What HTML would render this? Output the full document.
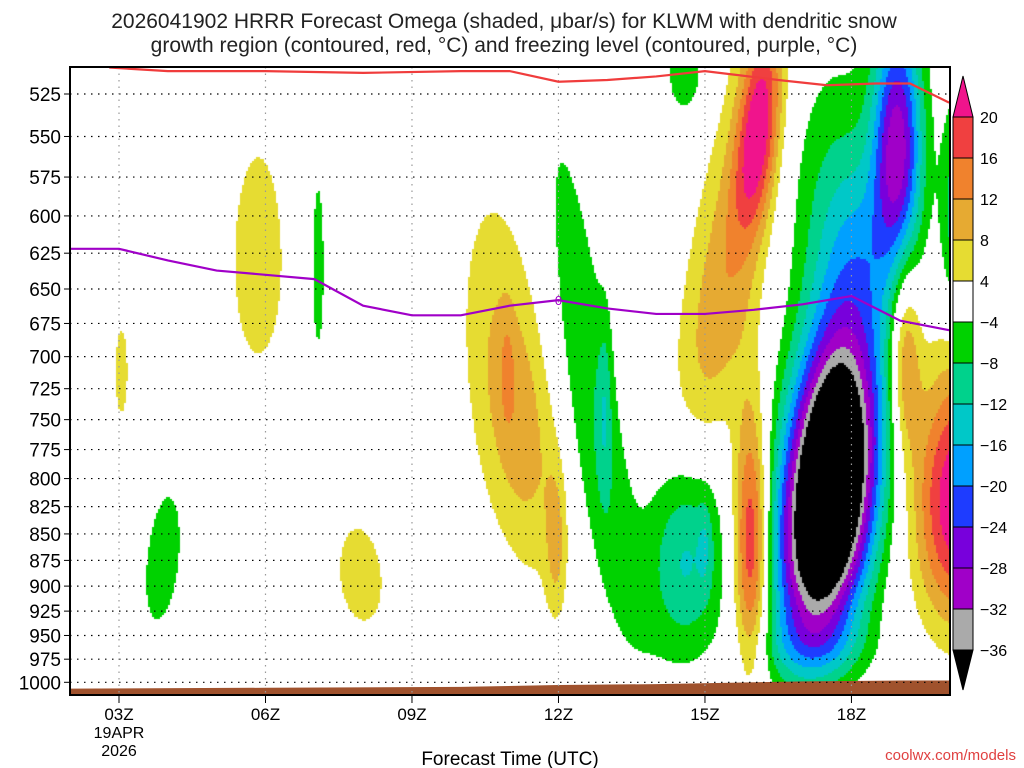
<!DOCTYPE html>
<html><head><meta charset="utf-8">
<style>
body{margin:0;background:#fff;width:1024px;height:768px;overflow:hidden;font-family:"Liberation Sans",sans-serif}
#wrap{position:relative;width:1024px;height:768px}
canvas,svg{position:absolute;left:0;top:0}
</style></head><body>
<div id="wrap">
<canvas id="cv" width="1024" height="768"></canvas>
<svg id="sv" width="1024" height="768"></svg>
</div>
<script>
// ---- data ----
const pressureTicks=[525,550,575,600,625,650,675,700,725,750,775,800,825,850,875,900,925,950,975,1000];
const timeTicks=[3,6,9,12,15,18];
const timeLabels=["03Z","06Z","09Z","12Z","15Z","18Z"];
const levels=[-36,-32,-28,-24,-20,-16,-12,-8,-4,4,8,12,16,20];
const levelColors=["#000000","#aaaaaa","#a000c8","#7800dc","#1e3cff","#00a0ff","#00c8c8","#00d28c","#00d200","#ffffff","#e6dc32","#e6aa32","#f0822d","#f04040","#f0148c"];
const cbLabels=["20","16","12","8","4","\u22124","\u22128","\u221212","\u221216","\u221220","\u221224","\u221228","\u221232","\u221236"];
// omega features (hour, pressure, hour-sigma, p-sigma, amplitude, tilt hours/100hPa)
const blobHour=[3.05,5.85,7.08,3.9,7.95,11.1,10.95,11.95,12.7,12.95,14.6,15.0,16.1,15.35,15.95,17.55,18.95,18.3,14.6,20.15,19.1,20.1,17.3,17.6];
const blobP=[712,630,635,875,890,740,710,860,750,740,870,860,545,650,860,810,555,620,512,820,700,600,960,580];
const blobSh=[0.13,0.42,0.1,0.3,0.42,0.62,0.1,0.15,0.45,0.1,0.55,0.1,0.3,0.55,0.25,0.65,0.35,0.6,0.3,0.6,0.22,0.2,0.8,0.7];
const blobSp=[35,60,50,55,45,100,30,50,160,50,70,30,45,100,85,97,55,45,20,80,55,50,25,60];
const blobAmp=[6,7.5,-7,-7,6.5,11,4,7,-8,-6,-13,-4,20,11,22,-62,-29,-6,-7,24,14,-10,-6,-6];
const blobTilt=[0,0,0,-0.2,0.15,0.3,0,0,0.35,0,0,0,-0.3,-0.45,0,-0.22,0,0,0,0,0,0,0,0];
// dendritic growth line (red) and freezing level (purple)
const redHours=[2.8,4,6,8,10,11,12,13,14,15,16.5,17.5,18.5,19.2,20];
const redP=[510,512,512,513,512,512,518,517,515,512,517,520,519,519,530];
const frzHours=[2,3,4,5,6,7,8,9,10,11,12,13,14,15,16,17,18,19,20];
const frzP=[622,622,630,637,640,643,662,669,669,662,658,664,668,668,665,661,655,673,680];
const sfcHours=[2,6,10,12,14,17,19,20];
const sfcP=[1007,1006,1005,1003,1002,999,998,998];

// ---- axes ----
const X0=70,X1=950,Y0=67,Y1=695;
const xOf=h=>119+(h-3)*48.83;
const yOf=p=>94+(Math.log(p)-Math.log(525))*913;
const hOf=x=>3+(x-119)/48.83;
const pOf=y=>Math.exp(Math.log(525)+(y-94)/913);

function omega(h,p){let s=0;for(let i=0;i<blobHour.length;i++){const dp=p-blobP[i];const dh=h-blobHour[i]-blobTilt[i]*dp/100;s+=blobAmp[i]*Math.exp(-0.5*(dh*dh/(blobSh[i]*blobSh[i])+dp*dp/(blobSp[i]*blobSp[i])));}return s;}
function colorOf(v){let k=0;while(k<levels.length&&v>=levels[k])k++;return levelColors[k];}

const cv=document.getElementById('cv');const ctx=cv.getContext('2d');
ctx.fillStyle='#fff';ctx.fillRect(0,0,1024,768);
const R=2;
for(let y=Y0;y<Y1;y+=R){const p=pOf(y+R/2);for(let x=X0;x<X1;x+=R){ctx.fillStyle=colorOf(omega(hOf(x+R/2),p));ctx.fillRect(x,y,R,R);}}

const NS='http://www.w3.org/2000/svg';const sv=document.getElementById('sv');
function mk(t,a,parent){const e=document.createElementNS(NS,t);for(const k in a)e.setAttribute(k,a[k]);(parent||sv).appendChild(e);return e;}
// terrain
let tp=`M${X0},${Y1} `;sfcHours.forEach((h,i)=>{tp+=`L${xOf(h)},${yOf(sfcP[i])} `;});tp+=`L${X1},${Y1} Z`;
const terr=mk('path',{d:tp,fill:'#a0522d'});


// gridlines
pressureTicks.forEach(p=>{const y=yOf(p);
 const g=mk('line',{x1:X0,x2:X1,y1:y,y2:y,stroke:'#000','stroke-width':1.2,'stroke-dasharray':'1.5,5.5'});
 
 
 mk('line',{x1:X0-6,x2:X0,y1:y,y2:y,stroke:'#000'});
 const t=mk('text',{x:X0-9,y:y+7,'text-anchor':'end','font-size':19,fill:'#000'});t.textContent=p;
 
 
});
timeTicks.forEach((h,i)=>{const x=xOf(h);
 const g=mk('line',{x1:x,x2:x,y1:Y0,y2:Y1,stroke:'#999','stroke-width':1.2,'stroke-dasharray':'1.5,5'});
 
 
 mk('line',{x1:x,x2:x,y1:Y1,y2:Y1+8,stroke:'#000'});
 const t=mk('text',{x:x,y:720,'text-anchor':'middle','font-size':17});t.textContent=timeLabels[i];
 
 
});
[["19APR",738],["2026",756]].forEach(a=>{const t=mk('text',{x:xOf(3),y:a[1],'text-anchor':'middle','font-size':16});t.textContent=a[0];
 
 });
// lines
function poly(hs,ps,col,w,name){const d=hs.map((h,i)=>(i?'L':'M')+Math.min(X1,xOf(h))+','+Math.max(Y0,yOf(ps[i]))).join(' ');
 const e=mk('path',{d:d,fill:'none',stroke:col,'stroke-width':w});
 
 }
poly(redHours,redP,'#f03c3c',2.2,'dendritic-line');
poly(frzHours,frzP,'#a000c8',2.2,'freezing-level-line');
const zl=mk('text',{x:xOf(12),y:yOf(658)+5,'text-anchor':'middle','font-size':13,fill:'#a000c8'});zl.textContent='0';


// frame
const fr=mk('rect',{x:X0,y:Y0,width:X1-X0,height:Y1-Y0,fill:'none',stroke:'#000','stroke-width':2});


// colorbar
const CX=953,CW=20,CT=117,SEG=41;
const tri=mk('polygon',{points:`${CX},${CT} ${CX+CW},${CT} ${CX+CW/2},${76}`,fill:levelColors[14],stroke:'#000'});


for(let i=0;i<13;i++){const r=mk('rect',{x:CX,y:CT+i*SEG,width:CW,height:SEG,fill:levelColors[13-i],stroke:'#000'});
 
 }
const tri2=mk('polygon',{points:`${CX},${CT+13*SEG} ${CX+CW},${CT+13*SEG} ${CX+CW/2},${690}`,fill:'#000',stroke:'#000'});


cbLabels.forEach((l,i)=>{const t=mk('text',{x:980,y:CT+i*SEG+6,'font-size':16});t.textContent=l;
 
 });
// titles
[["2026041902 HRRR Forecast Omega (shaded, \u03bcbar/s) for KLWM with dendritic snow",28],["growth region (contoured, red, \u00b0C) and freezing level (contoured, purple, \u00b0C)",52]].forEach(a=>{
 const t=mk('text',{x:504,y:a[1],'text-anchor':'middle','font-size':21,fill:'#222'});t.textContent=a[0];
 
 });
const xt=mk('text',{x:510,y:765,'text-anchor':'middle','font-size':19});xt.textContent='Forecast Time (UTC)';


const cr=mk('text',{x:1016,y:760,'text-anchor':'end','font-size':15,fill:'#e04040'});cr.textContent='coolwx.com/models';


</script>
</body></html>
